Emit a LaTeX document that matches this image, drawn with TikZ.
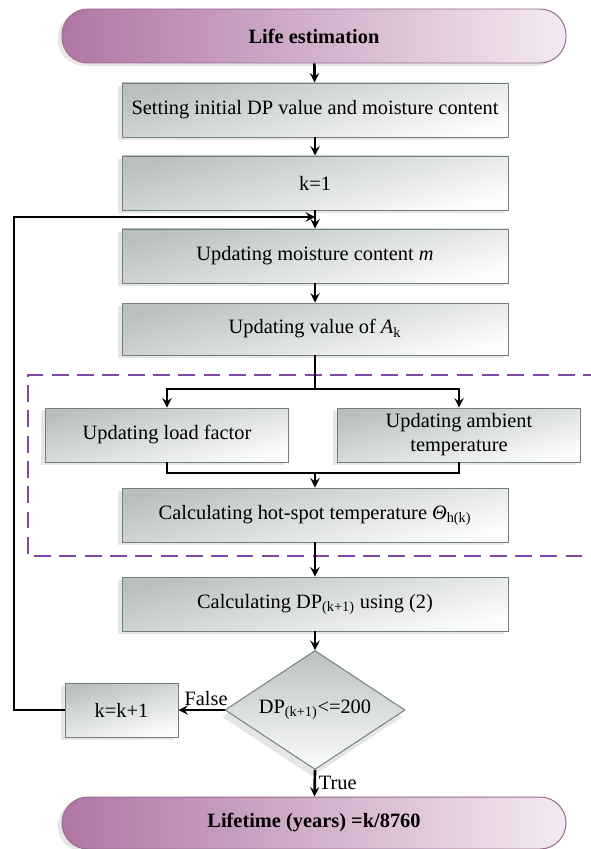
\documentclass[tikz,border=0pt]{standalone}
\usepackage{fontspec}
\setmainfont{Liberation Serif}
\usepackage{tikz}
\usetikzlibrary{arrows,shapes,positioning,calc,shadows}
\usepackage{xcolor}

\definecolor{boxgray}{RGB}{186,192,192}
\definecolor{boxline}{RGB}{112,128,128}
\definecolor{termpink}{RGB}{176,118,164}
\definecolor{termlight}{RGB}{244,234,242}
\definecolor{termline}{RGB}{150,108,142}
\definecolor{dashpurple}{RGB}{128,72,168}

\tikzset{
  procbox/.style={draw=boxline, line width=0.7pt, rectangle, top color=boxgray,
    bottom color=white!96!boxgray, shading angle=15, minimum height=1.35cm,
    align=center, inner sep=2pt,
    drop shadow={shadow xshift=-3pt, shadow yshift=-2pt, opacity=0.2}},
  termbox/.style={draw=termline, line width=0.7pt, rectangle, rounded corners=0.65cm,
    left color=termpink, right color=termlight, minimum width=12.6cm,
    font=\fontsize{14.5}{17}\selectfont\bfseries,
    drop shadow={shadow xshift=-3pt, shadow yshift=-2pt, opacity=0.2}},
  decbox/.style={draw=boxline, line width=0.7pt, diamond, aspect=1.5, inner sep=0pt,
    top color=boxgray, bottom color=white!96!boxgray,
    minimum width=4.5cm, minimum height=2.975cm,
    drop shadow={shadow xshift=-2pt, shadow yshift=-5pt, opacity=0.2}},
  flow/.style={line width=1.9pt, black},
}

\begin{document}
\begin{tikzpicture}[>=stealth, font=\fontsize{14.5}{17}\selectfont]
  \useasboundingbox (0,0) rectangle (14.75,-21.225);

  % group of steps for the hot-spot temperature
  \draw[dashpurple, line width=1.8pt, dash pattern=on 12pt off 6pt]
    (15,-9.375) -- (0.7,-9.375) -- (0.7,-13.9) -- (15,-13.9);

  \node[termbox, minimum height=1.35cm] (start) at (7.85,-0.9) {Life estimation};
  \node[procbox, minimum width=9.65cm] (init) at (7.875,-2.75)
    {Setting initial DP value and moisture content};
  \node[procbox, minimum width=9.65cm] (k1) at (7.875,-4.575) {k=1};
  \node[procbox, minimum width=9.65cm] (moist) at (7.875,-6.4)
    {Updating moisture content \textit{m}};
  \node[procbox, minimum width=9.65cm, minimum height=1.3cm] (ak) at (7.875,-8.225)
    {Updating value of \textit{A}\textsubscript{k}};
  \node[procbox, minimum width=6.075cm] (load) at (4.175,-10.875)
    {Updating load factor};
  \node[procbox, minimum width=6.075cm] (amb) at (11.475,-10.875)
    {Updating ambient\\temperature};
  \node[procbox, minimum width=9.65cm] (hot) at (7.875,-12.875)
    {Calculating hot-spot temperature \textit{Θ}\textsubscript{h(k)}};
  \node[procbox, minimum width=9.65cm] (dpc) at (7.875,-15.1)
    {Calculating DP\textsubscript{(k+1)} using (2)};
  \node[decbox] (test) at (7.875,-17.75) {DP\textsubscript{(k+1)}<=200};
  \node[procbox, minimum width=2.825cm] (kinc) at (3.0375,-17.75) {k=k+1};
  \node[termbox, minimum height=1.3cm] (stop) at (7.85,-20.575)
    {Lifetime (years) =k/8760};

  \coordinate (split) at (7.875,-9.725);
  \coordinate (merge) at (7.875,-11.825);
  \coordinate (back) at (0.35,-5.425);
  \coordinate (join) at (7.875,-5.425);

  \draw[flow,->] (start) -- (init);
  \draw[flow,->] (init) -- (k1);
  \draw[flow,->] (k1) -- (moist);
  \draw[flow,->] (moist) -- (ak);
  \draw[flow] (ak) -- (split);
  \draw[flow,->] (split) -| (load.north);
  \draw[flow,->] (split) -| (amb.north);
  \draw[flow] (load.south) |- (merge);
  \draw[flow] (amb.south) |- (merge);
  \draw[flow,->] (merge) -- (hot);
  \draw[flow,->] (hot) -- (dpc);
  \draw[flow,->] (dpc) -- (test);
  \draw[flow,->] (test.west) -- node[above, pos=0.4, inner sep=2pt]{False} (kinc.east);
  \draw[flow,->] (kinc.west) -| (back) -- (join);
  \draw[flow,->] (test.south) -- node[right, inner sep=2pt]{True} (stop);
\end{tikzpicture}
\end{document}
